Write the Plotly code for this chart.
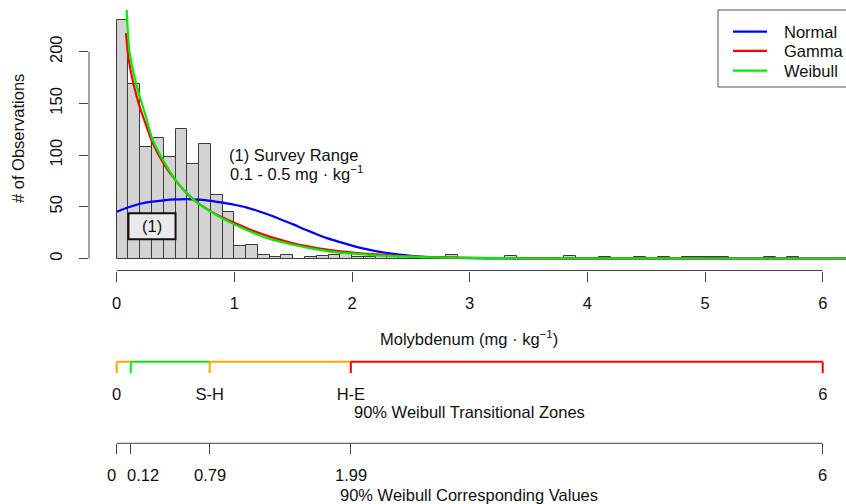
import numpy as np
import plotly.graph_objects as go

# ---------------- data ----------------
bin_width = 0.1
counts = [231, 169, 108, 117, 98, 125, 91, 111, 61, 45,
          12, 13, 3, 1, 3, 0, 1, 2, 3, 4,
          1, 1, 3, 2, 2, 0, 1, 0, 3, 0,
          0, 0, 0, 2, 0, 0, 0, 0, 2, 0,
          0, 1, 0, 0, 1, 0, 1, 0, 1, 1,
          1, 1, 0, 0, 0, 1, 0, 1]

normal_x = [0.0, 0.1, 0.2, 0.3, 0.4, 0.5, 0.6, 0.7, 0.8, 0.9, 1.0, 1.1, 1.2, 1.3, 1.4,
            1.5, 1.6, 1.7, 1.8, 1.9, 2.0, 2.1, 2.2, 2.3, 2.4, 2.5, 2.6, 2.7, 2.8, 3.0,
            3.3, 3.6, 4.0, 5.0, 6.3]
normal_y = [45.3, 49.6, 53.0, 55.0, 56.3, 57.1, 57.5, 57.0, 55.8, 54.0, 52.0, 49.5, 46.0, 42.0, 37.5,
            33.0, 28.0, 23.5, 19.2, 15.8, 12.5, 9.6, 7.2, 5.3, 3.8, 2.6, 1.7, 1.1, 0.7, 0.3,
            0.1, 0.03, 0.0, 0.0, 0.0]

gamma_x = [0.079, 0.1, 0.141, 0.2, 0.25, 0.3, 0.4, 0.5, 0.6, 0.7, 0.8, 0.9, 1.0, 1.1, 1.2,
           1.3, 1.4, 1.5, 1.6, 1.7, 1.8, 1.9, 2.0, 2.2, 2.4, 2.6, 2.8, 3.0, 3.5, 4.0, 5.0, 6.3]
gamma_y = [218, 194, 169.4, 145, 129, 113, 91.5, 75.5, 62.5, 52.8, 45.6, 39.6, 34.5, 29.6, 25.1,
           21.2, 17.8, 14.8, 12.2, 10.1, 8.4, 7.0, 5.8, 3.9, 2.5, 1.6, 1.0, 0.7, 0.3, 0.1, 0.0, 0.0]

weibull_x = [0.079, 0.107, 0.164, 0.2, 0.249, 0.3, 0.4, 0.5, 0.6, 0.7, 0.8, 0.9, 1.0, 1.1, 1.2,
             1.3, 1.4, 1.5, 1.6, 1.7, 1.8, 1.9, 2.0, 2.2, 2.4, 2.6, 2.8, 3.0, 3.5, 4.0, 5.0, 6.3]
weibull_y = [252, 201.6, 169.4, 155, 137.1, 116.5, 94, 76, 62.5, 52.5, 45.2, 38.7, 33.0, 27.8, 23.0,
             19.0, 16.0, 13.3, 10.9, 8.8, 6.9, 5.7, 4.8, 3.1, 2.1, 1.4, 0.9, 0.6, 0.25, 0.1, 0.0, 0.0]

series_names = ["Normal", "Gamma", "Weibull"]
series_colors = ["#0000FF", "#FF0000", "#00EE00"]

survey_range = [0.1, 0.5]

x_ticks = [0, 1, 2, 3, 4, 5, 6]
y_ticks = [0, 50, 100, 150, 200]

zone_edges = [0, 0.12, 0.79, 1.99, 6]
zone_colors = ["#FFA500", "#00EE00", "#FFA500", "#FF0000"]
zone_tick_colors = ["#FFA500", "#00EE00", "#FFA500", "#FF0000", "#FF0000"]
zone_labels = ["0", "", "S-H", "H-E", "6"]
value_labels = ["0", "0.12", "0.79", "1.99", "6"]

# ---------------- layout helpers (pixel geometry) ----------------
W, H = 846, 504
X0_PX, X_SCALE = 116.7, 117.67         # px of x=0, px per unit
def xdat(px):
    return (px - X0_PX) / X_SCALE
Y0_PX, Y_SCALE = 258.5, 1.034
def ydat(py):
    return (Y0_PX - py) / Y_SCALE
def fx(px):
    return px / W
def fy(py):
    return 1 - py / H

FONT = "Liberation Sans, Arial, sans-serif"
FS = 16.5
TXT = "#111111"
AXC = "#444444"

fig = go.Figure()

centers = [(i + 0.5) * bin_width for i in range(len(counts))]
fig.add_trace(go.Bar(x=centers, y=counts, width=bin_width,
                     marker=dict(color="#D3D3D3", line=dict(color="#3A3A3A", width=1)),
                     showlegend=False, hoverinfo="skip"))

for xs, ys, name, col in zip([normal_x, gamma_x, weibull_x],
                             [normal_y, gamma_y, weibull_y],
                             series_names, series_colors):
    fig.add_trace(go.Scatter(x=xs, y=ys, mode="lines", name=name,
                             line=dict(color=col, width=2.2, shape="spline", smoothing=0.5),
                             showlegend=False))

# zone axis lines and ticks
for i, col in enumerate(zone_colors):
    fig.add_trace(go.Scatter(x=[zone_edges[i], zone_edges[i + 1]], y=[1, 1], mode="lines",
                             line=dict(color=col, width=2), xaxis="x2", yaxis="y2",
                             showlegend=False, hoverinfo="skip"))
for e, col in zip(zone_edges, zone_tick_colors):
    fig.add_trace(go.Scatter(x=[e, e], y=[1, 0], mode="lines",
                             line=dict(color=col, width=2), xaxis="x2", yaxis="y2",
                             showlegend=False, hoverinfo="skip"))

zone_vals = [e for e, t in zip(zone_edges, zone_labels) if t]
zone_text = [t for t in zone_labels if t]

xr = [xdat(89), xdat(846)]
common_x = dict(range=xr, domain=[fx(89), 1], showgrid=False, zeroline=False, showline=False,
                tickangle=0, tickfont=dict(family=FONT, size=FS, color=TXT))

fig.update_layout(
    width=W, height=H, margin=dict(l=0, r=0, t=0, b=0),
    paper_bgcolor="white", plot_bgcolor="white",
    bargap=0,
    font=dict(family=FONT, size=FS, color=TXT),
    xaxis=dict(**common_x, tickvals=x_ticks, ticks="outside", ticklen=10, tickcolor=AXC,
               ticklabelstandoff=8),
    yaxis=dict(range=[ydat(270.5), ydat(10)], domain=[fy(270.5), fy(10)],
               showgrid=False, zeroline=False, showline=False,
               tickvals=y_ticks, ticks="outside", ticklen=9, tickcolor=AXC, tickangle=-90,
               tickfont=dict(family=FONT, size=FS, color=TXT), ticklabelstandoff=10),
    xaxis2=dict(**common_x, anchor="y2", tickvals=zone_vals, ticktext=zone_text,
                ticks="outside", ticklen=4, tickcolor="rgba(0,0,0,0)"),
    yaxis2=dict(range=[-0.2, 1.2], domain=[fy(375.3), fy(359.4)], visible=False),
    xaxis3=dict(**common_x, anchor="y3", tickvals=zone_edges, showticklabels=False,
                ticks="outside", ticklen=10, tickcolor=AXC),
    yaxis3=dict(range=[0, 1], domain=[fy(443.3), fy(436)], visible=False),
)

shapes = []
# main axis lines
shapes.append(dict(type="line", xref="x", yref="paper", x0=x_ticks[0], x1=x_ticks[-1],
                   y0=fy(270.5), y1=fy(270.5), line=dict(color=AXC, width=1)))
shapes.append(dict(type="line", xref="paper", yref="y", x0=fx(89), x1=fx(89),
                   y0=y_ticks[0], y1=y_ticks[-1], line=dict(color=AXC, width=1)))
shapes.append(dict(type="line", xref="x3", yref="paper", x0=zone_edges[0], x1=zone_edges[-1],
                   y0=fy(443.3), y1=fy(443.3), line=dict(color=AXC, width=1)))
# survey range box
shapes.append(dict(type="rect", xref="x", yref="y", x0=survey_range[0], x1=survey_range[1],
                   y0=ydat(239.3), y1=ydat(213.3), fillcolor="#E9E9E9",
                   line=dict(color="#111111", width=2), layer="above"))
# legend box
shapes.append(dict(type="rect", xref="paper", yref="paper", x0=fx(718), x1=fx(870),
                   y0=fy(87), y1=fy(10), line=dict(color="#555555", width=1), fillcolor="white"))
leg_y = [31.7, 50.9, 70.7]
for ly, col in zip(leg_y, series_colors):
    shapes.append(dict(type="line", xref="paper", yref="paper", x0=fx(733), x1=fx(767),
                       y0=fy(ly), y1=fy(ly), line=dict(color=col, width=2.2)))
fig.update_layout(shapes=shapes)

ann = []
# value labels under the third axis: the crowded "0" / "0.12" pair is pushed apart
value_anchor = ["right", "left", "center", "center", "center"]
value_shift = [1, -6, 0, 0, 0]
for e, t, a, s in zip(zone_edges, value_labels, value_anchor, value_shift):
    ann.append(dict(xref="x3", yref="paper", x=e, y=fy(475), text=t, xanchor=a,
                    yanchor="middle", xshift=s, showarrow=False,
                    font=dict(family=FONT, size=FS, color=TXT)))
for ly, name in zip(leg_y, series_names):
    ann.append(dict(xref="paper", yref="paper", x=fx(782), y=fy(ly), text=name,
                    xanchor="left", yanchor="middle", showarrow=False,
                    font=dict(family=FONT, size=FS, color=TXT)))
ann.append(dict(xref="x", yref="y", x=sum(survey_range) / 2, y=ydat(226.3), text="(1)",
                showarrow=False, xanchor="center", yanchor="middle",
                font=dict(family=FONT, size=FS, color=TXT)))
ann.append(dict(xref="x", yref="y", x=xdat(227), y=ydat(155), text="(1) Survey Range",
                showarrow=False, xanchor="left", yanchor="middle",
                font=dict(family=FONT, size=FS, color=TXT)))
ann.append(dict(xref="x", yref="y", x=xdat(228), y=ydat(173), text="0.1 - 0.5 mg · kg<sup>−1</sup>",
                showarrow=False, xanchor="left", yanchor="middle",
                font=dict(family=FONT, size=FS, color=TXT)))
ann.append(dict(xref="paper", yref="paper", x=fx(469), y=fy(338),
                text="Molybdenum (mg · kg<sup>−1</sup>)", showarrow=False,
                xanchor="center", yanchor="middle", font=dict(family=FONT, size=FS, color=TXT)))
ann.append(dict(xref="paper", yref="paper", x=fx(469), y=fy(412),
                text="90% Weibull Transitional Zones", showarrow=False,
                xanchor="center", yanchor="middle", font=dict(family=FONT, size=FS, color=TXT)))
ann.append(dict(xref="paper", yref="paper", x=fx(469), y=fy(495),
                text="90% Weibull Corresponding Values", showarrow=False,
                xanchor="center", yanchor="middle", font=dict(family=FONT, size=FS, color=TXT)))
ann.append(dict(xref="paper", yref="paper", x=fx(18), y=fy(139),
                text="# of Observations", showarrow=False, textangle=-90,
                xanchor="center", yanchor="middle", font=dict(family=FONT, size=FS, color=TXT)))
fig.update_layout(annotations=ann)

fig.write_html("out.html")
